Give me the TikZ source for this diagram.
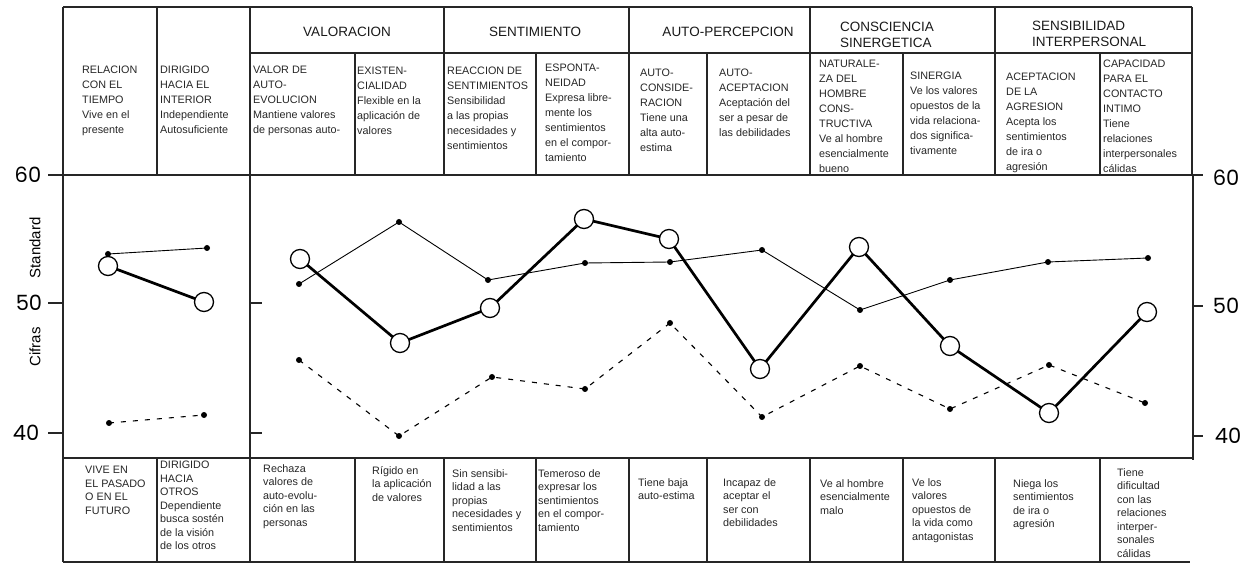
\documentclass[tikz,border=0pt]{standalone}
\usepackage{fontspec}
\setmainfont{Liberation Sans}
\newfontfamily\numfont{Poppins}
\pgfdeclarelayer{under}
\pgfsetlayers{under,main}
\begin{document}
\begin{tikzpicture}[x=1pt,y=-1pt,
  rule/.style={line width=1.1pt, draw=black!85},
  cell/.style={anchor=north west, align=left, inner sep=0pt, font=\fontsize{10.8}{15}\selectfont, text=black!85},
  bcell/.style={cell, font=\fontsize{10.8}{13.5}\selectfont},
  group/.style={align=left, inner sep=0pt, font=\fontsize{13.5}{16}\selectfont, text=black!90},
  num/.style={inner sep=0pt, font=\numfont\fontsize{21}{21}\selectfont},
  axlabel/.style={inner sep=0pt, rotate=90, font=\fontsize{15}{15}\selectfont},
  big/.style={circle, draw, line width=1.3pt, fill=white, minimum size=19pt, inner sep=0pt},
  dot/.style={circle, fill, minimum size=6pt, inner sep=0pt},
  heavyline/.style={line width=2.7pt},
  thinline/.style={line width=0.9pt},
  dashline/.style={line width=1.1pt, dash pattern=on 5pt off 7pt}]
\useasboundingbox (0,0) rectangle (1259,569);

% ---------- rules of the tables and axes ----------
\draw[rule] (63,7) -- (1192,7);
\draw[rule] (63,7) -- (63,562);
\foreach \x in {157,444,629,810,995,1192} \draw[rule] (\x,7) -- (\x,175);
\draw[rule] (250,7) -- (250,562);
\draw[rule] (250,53) -- (1192,53);
\foreach \x in {355,536,707,903,1100} \draw[rule] (\x,53) -- (\x,175);
\draw[rule] (48,175) -- (1203,175);
\draw[rule] (1193,175) -- (1193,460);
\draw[rule] (48,303) -- (63,303);
\draw[rule] (48,433) -- (63,433);
\draw[rule] (250,303) -- (262,303);
\draw[rule] (250,433) -- (262,433);
\draw[rule] (1193,306) -- (1203,306);
\draw[rule] (1193,436) -- (1203,436);
\draw[rule] (63,458) -- (1193,458);
\foreach \x in {157,355,444,536,629,707,810,903,995,1100} \draw[rule] (\x,458) -- (\x,562);
\draw[rule] (63,562) -- (1190,562);

% ---------- axis numbers and title ----------
\node[num] (l60) at (28,175) {60};
\node[num] (l50) at (29,303) {50};
\node[num] (l40) at (26,433) {40};
\node[num] (r60) at (1226,178) {60};
\node[num] (r50) at (1226,306) {50};
\node[num] (r40) at (1228,436) {40};
\node[axlabel] (std) at (35,248) {Standard};
\node[axlabel] (cif) at (35,347) {Cifras};

% ---------- group headings ----------
\node[group, anchor=center] (gval) at (347,32) {VALORACION};
\node[group, anchor=center] (gsen) at (535,32) {SENTIMIENTO};
\node[group, anchor=center] (gaut) at (728,32) {AUTO-PERCEPCION};
\node[group, anchor=west] (gcon) at (840,35) {CONSCIENCIA\\SINERGETICA};
\node[group, anchor=west] (gint) at (1032,34) {SENSIBILIDAD\\INTERPERSONAL};

% ---------- top cells ----------
\node[cell] (u1) at (82,66) {RELACION\\CON EL\\TIEMPO\\Vive en el\\presente};
\node[cell] (u2) at (160,66) {DIRIGIDO\\HACIA EL\\INTERIOR\\Independiente\\Autosuficiente};
\node[cell] (u3) at (253,66) {VALOR DE\\AUTO-\\EVOLUCION\\Mantiene valores\\de personas auto-};
\node[cell] (u4) at (357,67) {EXISTEN-\\CIALIDAD\\Flexible en la\\aplicación de\\valores};
\node[cell] (u5) at (447,67) {REACCION DE\\SENTIMIENTOS\\Sensibilidad\\a las propias\\necesidades y\\sentimientos};
\node[cell] (u6) at (545,64) {ESPONTA-\\NEIDAD\\Expresa libre-\\mente los\\sentimientos\\en el compor-\\tamiento};
\node[cell] (u7) at (640,69) {AUTO-\\CONSIDE-\\RACION\\Tiene una\\alta auto-\\estima};
\node[cell] (u8) at (719,69) {AUTO-\\ACEPTACION\\Aceptación del\\ser a pesar de\\las debilidades};
\node[cell] (u9) at (819,60) {NATURALE-\\ZA DEL\\HOMBRE\\CONS-\\TRUCTIVA\\Ve al hombre\\esencialmente\\bueno};
\node[cell] (u10) at (910,72) {SINERGIA\\Ve los valores\\opuestos de la\\vida relaciona-\\dos significa-\\tivamente};
\node[cell] (u11) at (1006,73) {ACEPTACION\\DE LA\\AGRESION\\Acepta los\\sentimientos\\de ira o\\agresión};
\node[cell] (u12) at (1103,60) {CAPACIDAD\\PARA EL\\CONTACTO\\INTIMO\\Tiene\\relaciones\\interpersonales\\cálidas};

% ---------- bottom cells ----------
\node[bcell] (b1) at (85,466) {VIVE EN\\EL PASADO\\O EN EL\\FUTURO};
\node[bcell] (b2) at (160,461) {DIRIGIDO\\HACIA\\OTROS\\Dependiente\\busca sostén\\de la visión\\de los otros};
\node[bcell] (b3) at (263,464) {Rechaza\\valores de\\auto-evolu-\\ción en las\\personas};
\node[bcell] (b4) at (372,466) {Rígido en\\la aplicación\\de valores};
\node[bcell] (b5) at (452,469) {Sin sensibi-\\lidad a las\\propias\\necesidades y\\sentimientos};
\node[bcell] (b6) at (538,469) {Temeroso de\\expresar los\\sentimientos\\en el compor-\\tamiento};
\node[bcell] (b7) at (638,478) {Tiene baja\\auto-estima};
\node[bcell] (b8) at (723,478) {Incapaz de\\aceptar el\\ser con\\debilidades};
\node[bcell] (b9) at (820,479) {Ve al hombre\\esencialmente\\malo};
\node[bcell] (b10) at (912,478) {Ve los\\valores\\opuestos de\\la vida como\\antagonistas};
\node[bcell] (b11) at (1013,479) {Niega los\\sentimientos\\de ira o\\agresión};
\node[bcell] (b12) at (1117,468) {Tiene\\dificultad\\con las\\relaciones\\interper-\\sonales\\cálidas};

% ---------- data points ----------
\foreach \n/\x/\y in {a/108/254, b/207/248, 1/299/284, 2/399/222, 3/488/280, 4/585/263, 5/670/262, 6/762/250, 7/860/310, 8/950/280, 9/1048/262, 10/1148/258}
  \node[dot] (s\n) at (\x,\y) {};
\foreach \n/\x/\y in {a/109/423, b/204/415, 1/299/360, 2/399/436, 3/492/377, 4/585/389, 5/670/323, 6/762/417, 7/860/366, 8/950/409, 9/1049/365, 10/1145/403}
  \node[dot] (d\n) at (\x,\y) {};
\foreach \n/\x/\y in {a/108/266, b/204/302, 1/300/259, 2/400/343, 3/490/308, 4/584/219, 5/669/239, 6/760/369, 7/859/247, 8/950/346, 9/1049/413, 10/1147/312}
  \node[big] (t\n) at (\x,\y) {};

\begin{pgfonlayer}{under}
\draw[thinline] (sa.center) -- (sb.center);
\draw[thinline] (s1.center) -- (s2.center) -- (s3.center) -- (s4.center) -- (s5.center) -- (s6.center) -- (s7.center) -- (s8.center) -- (s9.center) -- (s10.center);
\draw[dashline] (da.center) -- (db.center);
\draw[dashline] (d1.center) -- (d2.center) -- (d3.center) -- (d4.center) -- (d5.center) -- (d6.center) -- (d7.center) -- (d8.center) -- (d9.center) -- (d10.center);
\draw[heavyline] (ta.center) -- (tb.center);
\draw[heavyline] (t1.center) -- (t2.center) -- (t3.center) -- (t4.center) -- (t5.center) -- (t6.center) -- (t7.center) -- (t8.center) -- (t9.center) -- (t10.center);
\end{pgfonlayer}
\end{tikzpicture}
\end{document}
